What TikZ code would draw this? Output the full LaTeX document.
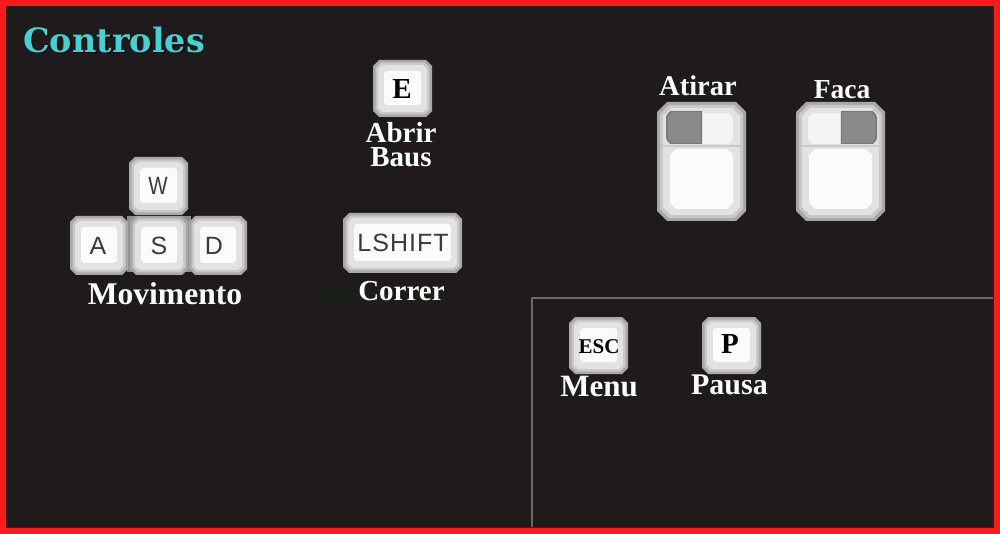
\documentclass[tikz,border=0pt]{standalone}
\usepackage{fontspec}
\usepackage{graphicx}
\setmainfont{Liberation Serif}
\newfontfamily\keyfont[LetterSpace=4]{Liberation Sans}
\newfontfamily\titlefont{DejaVu Serif}
\definecolor{bgdark}{HTML}{1F1A1B}
\definecolor{frame}{HTML}{FF1A1A}
\definecolor{frameinner}{HTML}{12302C}
\definecolor{panelline}{HTML}{6A6767}
\definecolor{greenband}{HTML}{1B1F1A}
\definecolor{keyA}{HTML}{A8A8A8}
\definecolor{keyB}{HTML}{C8C8C8}
\definecolor{keyC}{HTML}{E2E2E2}
\definecolor{keyD}{HTML}{FBFBFB}
\definecolor{keyText}{HTML}{3A3A3A}
\definecolor{titlecol}{HTML}{3FD3D6}
\definecolor{btnDark}{HTML}{8A8A8A}
\definecolor{btnEdge}{HTML}{777777}
\definecolor{btnLight}{HTML}{F4F4F4}
\definecolor{keyGap}{HTML}{8F8F8F}
\newcommand{\chamf}[6]{\fill[#6] ({#1+#5},#2) -- ({#3-#5},#2) -- (#3,{#2+#5}) -- (#3,{#4-#5}) -- ({#3-#5},#4) -- ({#1+#5},#4) -- (#1,{#4-#5}) -- (#1,{#2+#5}) -- cycle;}
\newcommand{\keycap}[4]{%
  \chamf{#1}{#2}{#3}{#4}{6}{keyA}
  \chamf{#1+2.5}{#2+2.5}{#3-2.5}{#4-2.5}{5}{keyB}
  \chamf{#1+5}{#2+5}{#3-5}{#4-5}{4}{keyC}
  \chamf{#1+11}{#2+11}{#3-11}{#4-12}{2.5}{keyD}}
\newcommand{\mousebody}[2]{% left x, top y
  \chamf{#1}{#2}{#1+89}{#2+119}{10}{keyA}
  \chamf{#1+3}{#2+3}{#1+86}{#2+116}{9}{keyB}
  \chamf{#1+6}{#2+6}{#1+83}{#2+113}{8}{keyC}
  \fill[keyB] (#1+5,#2+43) rectangle (#1+84,#2+45.5);
  \chamf{#1+13}{#2+47}{#1+76}{#2+107}{6}{keyD}}
% button with its outer (left) side rounded
\newcommand{\btnleft}[5]{\fill[#5,rounded corners=7pt] (#1+10,#2) -- (#1,#2) -- (#1,#4) -- (#1+10,#4) -- cycle;
  \fill[#5] (#1+6,#2) rectangle (#3,#4);}
% button with its outer (right) side rounded
\newcommand{\btnright}[5]{\fill[#5,rounded corners=7pt] (#3-10,#2) -- (#3,#2) -- (#3,#4) -- (#3-10,#4) -- cycle;
  \fill[#5] (#1,#2) rectangle (#3-6,#4);}
\tikzset{
  lbl/.style={text=white,font=\fontsize{29}{24}\selectfont\bfseries,inner sep=0pt,anchor=center,align=center},
  keyglyph/.style={text=keyText,font=\keyfont\fontsize{25}{25}\selectfont,inner sep=0pt,anchor=center},
  keyserif/.style={text=black,font=\fontsize{29}{29}\selectfont\bfseries,inner sep=0pt,anchor=center},
  titletext/.style={font=\titlefont\fontsize{33.5}{33.5}\selectfont\bfseries,inner sep=0pt,anchor=west}
}
\begin{document}
\begin{tikzpicture}[x=1pt,y=-1pt]
\useasboundingbox (0,0) rectangle (1000,534);
\fill[bgdark] (0,0) rectangle (1000,534);
\fill[greenband] (320,288) rectangle (445,308);
\draw[panelline,line width=1.5pt] (532,527) -- (532,298) -- (993,298);
\draw[frameinner,line width=1pt] (7,7) rectangle (993,527);
\draw[frame,line width=6.5pt] (3.2,3.2) rectangle (996.8,530.8);
% title
\node[titletext,text=black] (titleshadow) at (24.5,41.5) {Controles};
\node[titletext,text=titlecol] (title) at (23,40) {Controles};
% WASD
\fill[keyGap] (127,216) rectangle (191,272);
\keycap{129}{157}{188}{215}
\keycap{70}{216}{128}{275}
\keycap{189}{216}{247}{275}
\keycap{130}{216}{188}{275}
\node[keyglyph] (kw) at (158,186) {\scalebox{.82}[1]{W}};
\node[keyglyph] (ka) at (98,246) {A};
\node[keyglyph] (ks) at (159,246) {S};
\node[keyglyph] (kd) at (214,246) {D};
\node[lbl,font=\fontsize{31.6}{24}\selectfont\bfseries] (mov) at (165,294) {Movimento};
% E
\keycap{373}{60}{432}{117}
\node[keyserif] (ke) at (402,89) {E};
\node[lbl] (abrir) at (401,145) {Abrir\\Baus};
% Shift
\keycap{343}{213}{462}{273}
\node[keyglyph] (kshift) at (403,243) {LSHIFT};
\node[lbl] (correr) at (401.5,291) {Correr};
% ESC, P
\keycap{569}{317}{628}{374}
\node[keyserif,font=\fontsize{21}{21}\selectfont\bfseries] (kesc) at (599,347) {ESC};
\node[lbl,font=\fontsize{31}{24}\selectfont\bfseries] (menu) at (599,387) {Menu};
\keycap{702}{317}{761}{374}
\node[keyserif] (kp) at (730,344) {P};
\node[lbl,font=\fontsize{30}{24}\selectfont\bfseries] (pausa) at (729.5,385) {Pausa};
% Mice
\mousebody{657}{102}
\btnleft{666}{111}{701.5}{144}{btnEdge}
\btnleft{667.5}{112.5}{700.5}{143}{btnDark}
\btnright{703}{113}{733}{144}{btnLight}
\node[lbl,font=\fontsize{28.5}{24}\selectfont\bfseries] (atirar) at (698,86) {Atirar};
\mousebody{796}{102}
\btnleft{808}{113}{840}{144}{btnLight}
\btnright{841}{111}{877}{144}{btnEdge}
\btnright{842}{112.5}{875.5}{143}{btnDark}
\node[lbl,font=\fontsize{27.5}{24}\selectfont\bfseries] (faca) at (842,90) {Faca};
\end{tikzpicture}
\end{document}
